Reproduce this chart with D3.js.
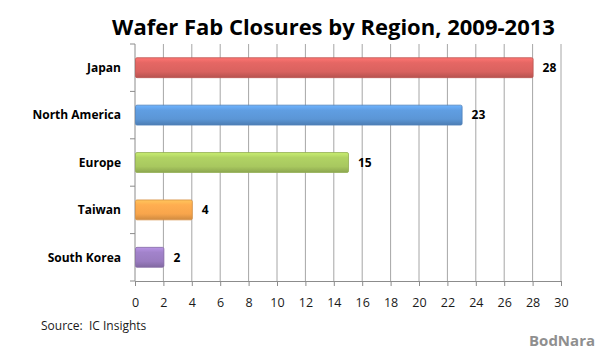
<!DOCTYPE html>
<html>
<head>
<meta charset="utf-8">
<script src="https://cdn.jsdelivr.net/npm/d3@7"></script>
<style>
  html, body { margin: 0; padding: 0; background: #fff; }
  svg { display: block; }
</style>
</head>
<body>
<svg id="chart" width="600" height="349"></svg>
<script>
// Wafer fab closures by region, 2009-2013
const regions = ["Japan", "North America", "Europe", "Taiwan", "South Korea"];
const closures = [28, 23, 15, 4, 2];
const barColors = ["#d9625f", "#5b96d6", "#a8c85f", "#f8a54c", "#9a7cc0"];
const xTicks = [0, 2, 4, 6, 8, 10, 12, 14, 16, 18, 20, 22, 24, 26, 28, 30];

const svg = d3.select("#chart");
const font = "'Open Sans', 'DejaVu Sans', sans-serif";

const plotLeft = 135, plotRight = 561, plotTop = 44, plotBottom = 281;

const x = d3.scaleLinear().domain([0, 30]).range([plotLeft, plotRight]);
const y = d3.scaleBand().domain(regions).range([plotTop, plotBottom]).paddingInner(0.58).paddingOuter(0.29);

// vertical gradients give each bar a raised look
const defs = svg.append("defs");
barColors.forEach((c, i) => {
  const g = defs.append("linearGradient")
    .attr("id", "grad" + i).attr("x1", 0).attr("y1", 0).attr("x2", 0).attr("y2", 1);
  const base = d3.color(c);
  g.append("stop").attr("offset", "0%").attr("stop-color", base.brighter(0.5));
  g.append("stop").attr("offset", "25%").attr("stop-color", base.brighter(0.15));
  g.append("stop").attr("offset", "70%").attr("stop-color", base);
  g.append("stop").attr("offset", "100%").attr("stop-color", base.darker(0.5));
});

// title
svg.append("text")
  .attr("x", 333.5).attr("y", 35)
  .attr("text-anchor", "middle")
  .attr("font-family", font).attr("font-weight", "bold")
  .attr("font-size", 22).attr("fill", "#000")
  .text("Wafer Fab Closures by Region, 2009-2013");

// gridlines
svg.append("g").selectAll("line")
  .data(xTicks.slice(1))
  .join("line")
  .attr("x1", d => x(d)).attr("x2", d => x(d))
  .attr("y1", plotTop).attr("y2", plotBottom)
  .attr("stroke", "#a6a6a6").attr("stroke-width", 1);

// x axis
const xAxis = svg.append("g")
  .attr("transform", `translate(0,${plotBottom})`)
  .call(d3.axisBottom(x).tickValues(xTicks).tickSize(5).tickPadding(12));
xAxis.select(".domain").attr("stroke", "#8c8c8c");
xAxis.selectAll(".tick line").attr("stroke", "#8c8c8c");
xAxis.selectAll("text")
  .attr("font-family", font).attr("font-size", 12.5).attr("fill", "#1a1a1a");

// y axis with ticks between categories
const yAxisG = svg.append("g");
yAxisG.append("line")
  .attr("x1", plotLeft).attr("x2", plotLeft).attr("y1", plotTop).attr("y2", plotBottom)
  .attr("stroke", "#8c8c8c");
const boundaries = d3.range(regions.length + 1).map(i => plotTop + i * (plotBottom - plotTop) / regions.length);
yAxisG.selectAll("line.tick")
  .data(boundaries)
  .join("line").attr("class", "tick")
  .attr("x1", plotLeft - 5).attr("x2", plotLeft)
  .attr("y1", d => d).attr("y2", d => d)
  .attr("stroke", "#8c8c8c");

yAxisG.selectAll("text")
  .data(regions)
  .join("text")
  .attr("x", 121)
  .attr("y", d => y(d) + y.bandwidth() / 2)
  .attr("dy", "0.35em")
  .attr("text-anchor", "end")
  .attr("font-family", font).attr("font-weight", "bold")
  .attr("font-size", 12).attr("fill", "#000")
  .text(d => d);

// bars
svg.append("g").selectAll("rect")
  .data(regions.map((r, i) => ({ r, v: closures[i], i })))
  .join("rect")
  .attr("x", x(0) + 0.5)
  .attr("y", d => y(d.r))
  .attr("width", d => x(d.v) - x(0))
  .attr("height", y.bandwidth())
  .attr("rx", 1.5)
  .attr("fill", d => `url(#grad${d.i})`)
  .attr("stroke", d => d3.color(barColors[d.i]).darker(0.4))
  .attr("stroke-width", 0.8);

// value labels
svg.append("g").selectAll("text")
  .data(regions.map((r, i) => ({ r, v: closures[i] })))
  .join("text")
  .attr("x", d => x(d.v) + 10)
  .attr("y", d => y(d.r) + y.bandwidth() / 2)
  .attr("dy", "0.35em")
  .attr("font-family", font).attr("font-weight", "bold")
  .attr("font-size", 12).attr("fill", "#000")
  .text(d => d.v);

// source note
svg.append("text")
  .attr("x", 41).attr("y", 330)
  .attr("font-family", font).attr("font-size", 12).attr("fill", "#1a1a1a")
  .text("Source:\u00a0 IC Insights");

// watermark
svg.append("text")
  .attr("x", 595).attr("y", 346)
  .attr("text-anchor", "end")
  .attr("font-family", font).attr("font-weight", "bold")
  .attr("font-size", 15).attr("fill", "#8f8f8f")
  .text("BodNara");
</script>
</body>
</html>
